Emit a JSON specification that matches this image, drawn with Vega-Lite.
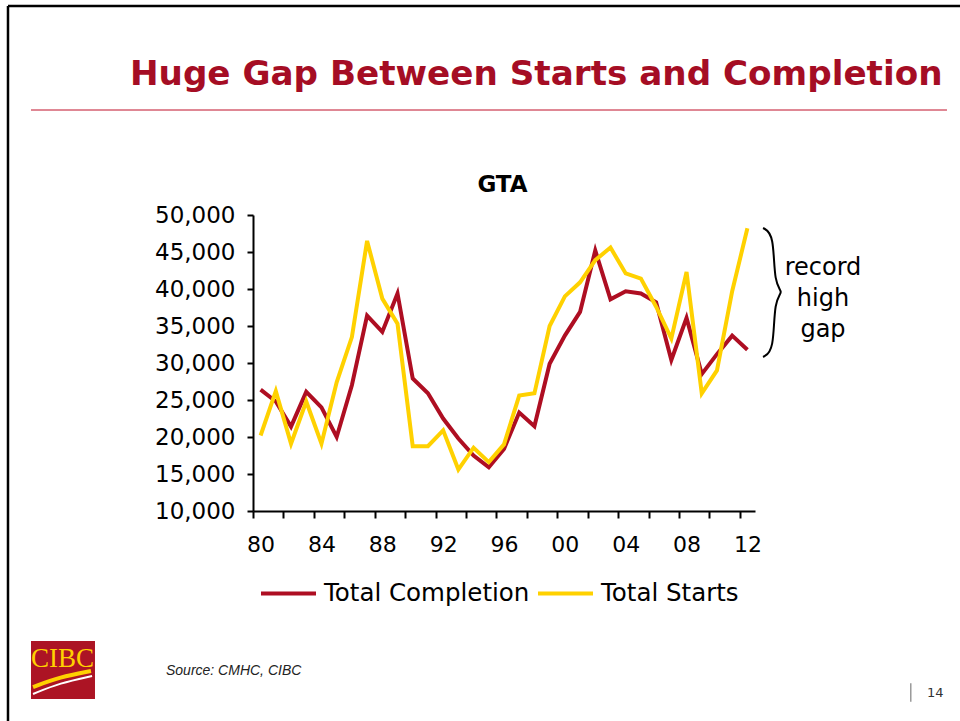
{
  "$schema": "https://vega.github.io/schema/vega-lite/v6.json",
  "width": 502,
  "height": 296,
  "autosize": {"type": "none"},
  "padding": {"left": 253, "top": 215, "right": 205, "bottom": 210},
  "background": "white",
  "config": {"view": {"stroke": null}, "font": "DejaVu Sans"},
  "resolve": {"axis": {"x": "independent", "y": "independent"}},
  "layer": [
    {
      "data": {"values": [
        {"year": 1980, "completion": 26400, "starts": 20200},
        {"year": 1981, "completion": 24800, "starts": 26200},
        {"year": 1982, "completion": 21400, "starts": 19100},
        {"year": 1983, "completion": 26100, "starts": 24800},
        {"year": 1984, "completion": 24000, "starts": 19100},
        {"year": 1985, "completion": 20000, "starts": 27400},
        {"year": 1986, "completion": 27000, "starts": 33500},
        {"year": 1987, "completion": 36400, "starts": 46500},
        {"year": 1988, "completion": 34200, "starts": 38700},
        {"year": 1989, "completion": 39400, "starts": 35300},
        {"year": 1990, "completion": 27900, "starts": 18750},
        {"year": 1991, "completion": 25900, "starts": 18750},
        {"year": 1992, "completion": 22500, "starts": 20900},
        {"year": 1993, "completion": 19800, "starts": 15600},
        {"year": 1994, "completion": 17500, "starts": 18550},
        {"year": 1995, "completion": 15900, "starts": 16600},
        {"year": 1996, "completion": 18400, "starts": 19000},
        {"year": 1997, "completion": 23300, "starts": 25600},
        {"year": 1998, "completion": 21450, "starts": 25900},
        {"year": 1999, "completion": 29900, "starts": 35000},
        {"year": 2000, "completion": 33700, "starts": 39000},
        {"year": 2001, "completion": 36900, "starts": 40900},
        {"year": 2002, "completion": 45200, "starts": 43900},
        {"year": 2003, "completion": 38600, "starts": 45600},
        {"year": 2004, "completion": 39700, "starts": 42100},
        {"year": 2005, "completion": 39400, "starts": 41400},
        {"year": 2006, "completion": 38200, "starts": 37600},
        {"year": 2007, "completion": 30400, "starts": 33300},
        {"year": 2008, "completion": 36100, "starts": 42300},
        {"year": 2009, "completion": 28500, "starts": 25900},
        {"year": 2010, "completion": 31200, "starts": 29000},
        {"year": 2011, "completion": 33700, "starts": 39700},
        {"year": 2012, "completion": 31800, "starts": 48200}
      ]},
      "transform": [{"fold": ["completion", "starts"], "as": ["series", "value"]}],
      "mark": {"type": "line", "strokeWidth": 4},
      "encoding": {
        "x": {
          "field": "year", "type": "quantitative",
          "scale": {"domain": [1979.5, 2012.5], "nice": false, "zero": false},
          "axis": {
            "title": null, "orient": "bottom",
            "values": [1979.5, 1981.5, 1983.5, 1985.5, 1987.5, 1989.5, 1991.5, 1993.5, 1995.5, 1997.5, 1999.5, 2001.5, 2003.5, 2005.5, 2007.5, 2009.5, 2011.5],
            "labelExpr": "(datum.value % 4 == 3.5) ? format((datum.value + 0.5) % 100, '02d') : ''",
            "labelOffset": 7.6,
            "labelFont": "DejaVu Sans", "labelFontSize": 22, "labelColor": "#000",
            "labelPadding": 16, "labelOverlap": false, "labelFlush": false,
            "tickSize": 7, "tickWidth": 2, "tickColor": "#000",
            "domainColor": "#000", "domainWidth": 2, "grid": false
          }
        },
        "y": {
          "field": "value", "type": "quantitative",
          "scale": {"domain": [10000, 50000], "nice": false, "zero": false},
          "axis": {
            "title": null, "orient": "left",
            "values": [10000, 15000, 20000, 25000, 30000, 35000, 40000, 45000, 50000],
            "labelExpr": "format(datum.value, ',')",
            "labelFont": "DejaVu Sans", "labelFontSize": 23, "labelColor": "#000",
            "labelPadding": 12, "labelOverlap": false,
            "tickSize": 6, "tickWidth": 2, "tickColor": "#000",
            "domainColor": "#000", "domainWidth": 2, "grid": false
          }
        },
        "color": {
          "field": "series", "type": "nominal",
          "scale": {"domain": ["completion", "starts"], "range": ["#AE0E22", "#FFD100"]},
          "legend": {
            "title": null, "orient": "none", "legendX": 6, "legendY": 349,
            "direction": "horizontal", "symbolType": "stroke", "symbolSize": 3025,
            "symbolStrokeWidth": 4, "labelFont": "DejaVu Sans", "labelFontSize": 24.5,
            "labelColor": "#000", "labelOffset": 6, "columnPadding": 0, "labelLimit": 400,
            "padding": 0,
            "labelExpr": "datum.label == 'completion' ? 'Total Completion' : 'Total Starts'"
          }
        }
      }
    },
    {
      "data": {"values": [{}]},
      "mark": {"type": "text", "font": "DejaVu Sans", "fontWeight": "bold", "fontSize": 23, "align": "center", "baseline": "alphabetic", "color": "#000"},
      "encoding": {"x": {"datum": 1995.9, "axis": null}, "y": {"datum": 53149, "axis": null}, "text": {"value": "GTA"}}
    },
    {
      "data": {"values": [{}]},
      "mark": {"type": "text", "font": "DejaVu Sans", "fontWeight": "bold", "fontSize": 34.2, "align": "left", "baseline": "alphabetic", "color": "#A50D24"},
      "encoding": {"x": {"datum": 1971.41, "axis": null}, "y": {"datum": 67635, "axis": null}, "text": {"value": "Huge Gap Between Starts and Completion"}}
    },
    {
      "data": {"values": [{}]},
      "mark": {"type": "rule", "color": "#C0102A", "strokeWidth": 1},
      "encoding": {"x": {"datum": 1964.906, "axis": null}, "x2": {"datum": 2025.12}, "y": {"datum": 64189, "axis": null}}
    },
    {
      "data": {"values": [{}]},
      "mark": {"type": "rule", "color": "#000", "strokeWidth": 2.5},
      "encoding": {"x": {"datum": 1963.394, "axis": null}, "x2": {"datum": 2025.98}, "y": {"datum": 78243, "axis": null}}
    },
    {
      "data": {"values": [{}]},
      "mark": {"type": "rule", "color": "#000", "strokeWidth": 2.5},
      "encoding": {"x": {"datum": 1963.394, "axis": null}, "y": {"datum": 78243, "axis": null}, "y2": {"datum": -18378}}
    },
    {
      "data": {"values": [
        {"i": 0, "bx": 2013.03, "by": 48243},
        {"i": 1, "bx": 2013.75, "by": 47432},
        {"i": 2, "bx": 2013.75, "by": 40541},
        {"i": 3, "bx": 2014.41, "by": 39595},
        {"i": 4, "bx": 2013.75, "by": 38649},
        {"i": 5, "bx": 2013.75, "by": 31622},
        {"i": 6, "bx": 2013.03, "by": 30811}
      ]},
      "mark": {"type": "line", "color": "#000", "strokeWidth": 2, "interpolate": "basis"},
      "encoding": {
        "x": {"field": "bx", "type": "quantitative", "axis": null},
        "y": {"field": "by", "type": "quantitative", "axis": null},
        "order": {"field": "i"}
      }
    },
    {
      "data": {"values": [{}]},
      "mark": {"type": "text", "font": "DejaVu Sans", "fontSize": 24, "align": "center", "baseline": "middle", "lineHeight": 31, "color": "#000"},
      "encoding": {"x": {"datum": 2016.97, "axis": null}, "y": {"datum": 42838, "axis": null}, "text": {"value": ["record", "high", "gap"]}}
    },
    {
      "data": {"values": [{}]},
      "mark": {"type": "rect", "color": "#AC1424"},
      "encoding": {"x": {"datum": 1964.906, "axis": null}, "x2": {"datum": 1969.113}, "y": {"datum": -7568, "axis": null}, "y2": {"datum": -15405}}
    },
    {
      "data": {"values": [{}]},
      "mark": {"type": "text", "font": "Liberation Serif", "fontSize": 27, "align": "center", "baseline": "alphabetic", "color": "#FFD100"},
      "encoding": {"x": {"datum": 1966.977, "axis": null}, "y": {"datum": -11014, "axis": null}, "text": {"value": "CIBC"}}
    },
    {
      "data": {"values": [
        {"i": 0, "sx": 1965.04, "sy": -13784},
        {"i": 1, "sx": 1966.81, "sy": -12432},
        {"i": 2, "sx": 1968.85, "sy": -11622}
      ]},
      "mark": {"type": "line", "color": "#FFD100", "strokeWidth": 4, "interpolate": "basis"},
      "encoding": {"x": {"field": "sx", "type": "quantitative", "axis": null}, "y": {"field": "sy", "type": "quantitative", "axis": null}, "order": {"field": "i"}}
    },
    {
      "data": {"values": [
        {"i": 0, "sx": 1965.04, "sy": -14730},
        {"i": 1, "sx": 1966.81, "sy": -13243},
        {"i": 2, "sx": 1968.92, "sy": -12297}
      ]},
      "mark": {"type": "line", "color": "#FFFFFF", "strokeWidth": 2, "interpolate": "basis"},
      "encoding": {"x": {"field": "sx", "type": "quantitative", "axis": null}, "y": {"field": "sy", "type": "quantitative", "axis": null}, "order": {"field": "i"}}
    },
    {
      "data": {"values": [{}]},
      "mark": {"type": "text", "font": "Liberation Sans", "fontStyle": "italic", "fontSize": 14, "align": "left", "baseline": "alphabetic", "color": "#222"},
      "encoding": {"x": {"datum": 1973.78, "axis": null}, "y": {"datum": -12162, "axis": null}, "text": {"value": "Source: CMHC, CIBC"}}
    },
    {
      "data": {"values": [{}]},
      "mark": {"type": "text", "font": "DejaVu Sans", "fontSize": 13, "align": "left", "baseline": "alphabetic", "color": "#333"},
      "encoding": {"x": {"datum": 2023.81, "axis": null}, "y": {"datum": -15068, "axis": null}, "text": {"value": "14"}}
    },
    {
      "data": {"values": [{}]},
      "mark": {"type": "rule", "color": "#999", "strokeWidth": 1.5},
      "encoding": {"x": {"datum": 2022.74, "axis": null}, "y": {"datum": -13284, "axis": null}, "y2": {"datum": -15770}}
    }
  ]
}
